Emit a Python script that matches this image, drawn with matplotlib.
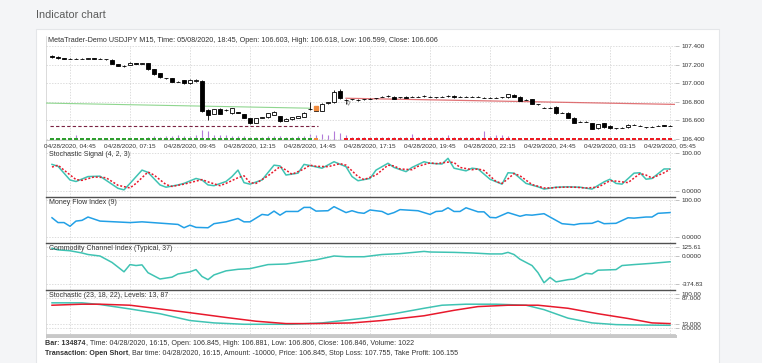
import matplotlib.pyplot as plt
from matplotlib.patches import Rectangle
from matplotlib.lines import Line2D

plt.rcParams['font.family'] = ['Liberation Sans', 'DejaVu Sans']

# ---- price bars (M15, 104 bars) ----
opens = [107.292, 107.285, 107.266, 107.264, 107.262, 107.264, 107.264, 107.266, 107.264, 107.262,
         107.250, 107.206, 107.188, 107.196, 107.216, 107.210, 107.214, 107.149, 107.106, 107.055,
         107.052, 107.018, 107.034, 106.999, 107.022, 107.024, 106.712, 106.669, 106.723, 106.712,
         106.676, 106.685, 106.669, 106.622, 106.576, 106.630, 106.633, 106.658, 106.647, 106.594,
         106.611, 106.629, 106.640, 106.720, 106.705, 106.705, 106.790, 106.794, 106.916, 106.822,
         106.827, 106.820, 106.827, 106.834, 106.837, 106.855, 106.862, 106.855, 106.848, 106.855,
         106.855, 106.855, 106.862, 106.855, 106.848, 106.855, 106.862, 106.862, 106.855, 106.855,
         106.855, 106.855, 106.844, 106.844, 106.844, 106.848, 106.848, 106.873, 106.855, 106.820,
         106.827, 106.776, 106.737, 106.737, 106.748, 106.683, 106.683, 106.629, 106.586, 106.586,
         106.568, 106.515, 106.568, 106.540, 106.515, 106.522, 106.525, 106.551, 106.540, 106.528,
         106.533, 106.544, 106.547, 106.540]
closes = [107.280, 107.268, 107.264, 107.262, 107.264, 107.263, 107.266, 107.264, 107.262, 107.257,
          107.210, 107.188, 107.186, 107.221, 107.210, 107.212, 107.149, 107.095, 107.063, 107.052,
          107.016, 107.016, 106.999, 107.034, 107.030, 106.701, 106.658, 106.719, 106.669, 106.710,
          106.730, 106.683, 106.629, 106.568, 106.622, 106.633, 106.676, 106.694, 106.597, 106.619,
          106.633, 106.647, 106.683, 106.723, 106.737, 106.776, 106.794, 106.909, 106.837, 106.819,
          106.826, 106.819, 106.828, 106.833, 106.838, 106.856, 106.861, 106.834, 106.847, 106.841,
          106.856, 106.854, 106.861, 106.856, 106.848, 106.856, 106.862, 106.848, 106.855, 106.856,
          106.854, 106.855, 106.844, 106.845, 106.844, 106.847, 106.880, 106.855, 106.812, 106.819,
          106.776, 106.775, 106.736, 106.737, 106.676, 106.683, 106.629, 106.576, 106.585, 106.586,
          106.508, 106.561, 106.525, 106.515, 106.515, 106.522, 106.551, 106.551, 106.540, 106.525,
          106.533, 106.544, 106.540, 106.540]
highs = [107.298, 107.290, 107.270, 107.268, 107.268, 107.268, 107.270, 107.270, 107.268, 107.264,
         107.255, 107.210, 107.192, 107.226, 107.220, 107.216, 107.220, 107.152, 107.110, 107.060,
         107.056, 107.022, 107.038, 107.040, 107.040, 107.030, 106.720, 106.724, 106.728, 106.718,
         106.735, 106.690, 106.674, 106.626, 106.626, 106.638, 106.680, 106.700, 106.652, 106.624,
         106.638, 106.652, 106.688, 106.800, 106.742, 106.782, 106.800, 106.925, 106.935, 106.830,
         106.832, 106.826, 106.834, 106.840, 106.844, 106.862, 106.868, 106.860, 106.854, 106.860,
         106.862, 106.860, 106.868, 106.862, 106.854, 106.862, 106.868, 106.868, 106.860, 106.860,
         106.860, 106.860, 106.848, 106.848, 106.848, 106.852, 106.884, 106.880, 106.860, 106.825,
         106.830, 106.780, 106.742, 106.742, 106.752, 106.688, 106.688, 106.634, 106.590, 106.590,
         106.572, 106.565, 106.572, 106.545, 106.520, 106.527, 106.556, 106.558, 106.546, 106.533,
         106.538, 106.550, 106.552, 106.545]
lows = [107.276, 107.264, 107.260, 107.258, 107.258, 107.259, 107.260, 107.260, 107.258, 107.252,
        107.205, 107.184, 107.176, 107.192, 107.205, 107.206, 107.145, 107.090, 107.058, 107.045,
        107.012, 107.010, 106.995, 106.995, 107.018, 106.690, 106.600, 106.664, 106.664, 106.704,
        106.672, 106.678, 106.625, 106.565, 106.572, 106.624, 106.630, 106.654, 106.585, 106.590,
        106.606, 106.625, 106.636, 106.712, 106.700, 106.700, 106.780, 106.790, 106.830, 106.775,
        106.820, 106.812, 106.820, 106.828, 106.830, 106.850, 106.856, 106.830, 106.842, 106.836,
        106.850, 106.848, 106.856, 106.850, 106.842, 106.850, 106.856, 106.844, 106.850, 106.850,
        106.850, 106.850, 106.840, 106.840, 106.840, 106.842, 106.845, 106.850, 106.808, 106.814,
        106.772, 106.768, 106.730, 106.732, 106.672, 106.678, 106.625, 106.572, 106.580, 106.580,
        106.504, 106.510, 106.520, 106.512, 106.510, 106.517, 106.520, 106.546, 106.535, 106.520,
        106.528, 106.540, 106.536, 106.535]
volumes = [300, 300, 300, 300, 1000, 300, 300, 300, 300, 300, 300, 300, 300, 300, 300, 300,
           660, 880, 730, 950, 880, 1000, 950, 880, 1000, 2200, 1900, 1100, 1000, 1000, 950, 950,
           880, 730, 660, 660, 800, 880, 880, 730, 730, 800, 880, 1250, 1100, 1400, 1100, 2000,
           1450, 1022,
           650, 700, 650, 700, 650, 700, 650, 700, 650,
           700, 1400, 700, 650, 700, 650, 700, 1100, 650, 700, 650, 700, 650, 2000, 900, 1000,
           1000, 800,
           450, 450, 450, 450, 450, 450, 450, 450, 450, 450, 450, 450, 450, 450, 450, 450, 450,
           450, 450, 450, 450, 450, 450, 450, 450, 450, 450]
position_runs = [("long", 44), ("entry", 1), ("flat", 4), ("short", 55)]

# moving average (trend coloured) and stop level
ma_up_bars = [-1, 43]
ma_up_vals = [106.786, 106.731]
ma_dn_bars = [49, 103.8]
ma_dn_vals = [106.838, 106.772]
level_price = 106.544
level_bars = [-0.4, 44.4]

tick_bars = [3, 13, 23, 33, 43, 53, 63, 73, 83, 93, 103]
tick_labels = ["04/28/2020, 04:45", "04/28/2020, 07:15", "04/28/2020, 09:45", "04/28/2020, 12:15",
               "04/28/2020, 14:45", "04/28/2020, 17:15", "04/28/2020, 19:45", "04/28/2020, 22:15",
               "04/29/2020, 24:45", "04/29/2020, 03:15", "04/29/2020, 05:45"]

# ---- Stochastic Signal (4, 2, 3) ----
sig_k_bars = [0, 1, 3, 4, 6, 8, 11, 12, 13, 15, 16, 18, 19, 21, 22, 24, 25, 26, 27, 29, 30, 31, 32, 33,
              35, 37, 38, 39, 41, 42, 43, 45, 47, 49, 50, 51, 53, 54, 56, 57, 59, 60, 62, 63, 65, 66,
              67, 69, 70, 71, 73, 75, 76, 77, 79, 81, 82, 84, 86, 88, 90, 92, 93, 94, 95, 97, 98, 99,
              100, 102, 103]
sig_k_vals = [70, 65, 29, 25, 38, 39, 7, 3, 20, 55, 49, 16, 10, 16, 20, 33, 29, 16, 14, 25, 38, 55, 22, 18,
              29, 68, 66, 42, 47, 70, 67, 60, 77, 64, 38, 27, 33, 55, 73, 62, 51, 62, 77, 73, 71, 86,
              60, 53, 60, 58, 31, 18, 48, 47, 20, 11, 5, 10, 11, 10, 5, 24, 31, 20, 18, 47, 48, 31,
              33, 58, 58]
sig_d_bars = [0, 1, 2, 4, 5, 7, 9, 11, 13, 14, 16, 17, 19, 20, 22, 23, 25, 26, 28, 29, 31, 32, 33, 34,
              36, 38, 39, 40, 42, 43, 44, 46, 48, 49, 51, 52, 54, 56, 57, 58, 60, 61, 63, 64, 66, 67,
              68, 70, 71, 72, 74, 75, 76, 77, 78, 80, 82, 83, 85, 87, 89, 91, 93, 94, 96, 98, 99, 100,
              102, 103]
sig_d_vals = [63, 68, 55, 30, 28, 37, 35, 15, 8, 20, 50, 42, 17, 12, 18, 22, 30, 24, 14, 20, 35, 40, 22, 20,
              40, 64, 55, 44, 58, 68, 65, 64, 72, 68, 38, 30, 42, 68, 66, 58, 56, 65, 74, 72, 76, 75,
              62, 56, 58, 54, 25, 20, 32, 46, 40, 17, 8, 8, 10, 10, 8, 10, 27, 26, 22, 46, 42, 34,
              48, 57]

# ---- Money Flow Index (9) ----
mfi_bars = [0, 1, 2, 3, 4, 5, 6, 8, 13, 15, 21, 22, 23, 24, 26, 27, 29, 31, 32, 33, 35, 36, 37, 38, 39,
            41, 42, 43, 44, 46, 47, 49, 50, 51, 52, 53, 55, 56, 57, 58, 61, 63, 64, 65, 66, 67, 68, 69,
            71, 72, 73, 74, 76, 78, 79, 80, 81, 82, 85, 87, 88, 90, 91, 92, 94, 96, 97, 99, 100, 101, 103]
mfi_vals = [52, 39, 39, 29, 43, 45, 54, 43, 39, 41, 34, 25, 32, 26, 25, 36, 41, 50, 41, 41, 61, 59, 70, 59, 69,
            69, 80, 80, 70, 71, 82, 66, 71, 66, 64, 73, 69, 61, 66, 74, 71, 61, 69, 70, 79, 69, 69, 79,
            68, 68, 53, 52, 66, 56, 60, 59, 61, 63, 36, 33, 36, 37, 43, 36, 37, 52, 51, 54, 54, 64, 66]

# ---- Commodity Channel Index (Typical, 37) ----
cci_bars = [0, 1, 3, 5, 6, 8, 10, 11, 12, 13, 14, 15, 16, 18, 20, 21, 23, 24, 25, 26, 27, 29, 31, 33, 36,
            39, 42, 44, 47, 49, 52, 55, 58, 62, 63, 67, 70, 73, 75, 76, 77, 78, 80, 81, 82, 83, 84, 86,
            87, 89, 90, 91, 94, 95, 97, 100, 103]
cci_vals = [104, 83, 71, 41, 20, 0, -87, -150, -214, -116, -129, -120, -226, -311, -286, -243, -214, -184,
            -277, -320, -256, -201, -180, -171, -116, -108, -74, -52, 0, -10, -10, 20, 32, 62, 54, 49,
            41, 28, 28, 49, 20, -44, -129, -226, -362, -290, -350, -320, -311, -235, -243, -192, -184,
            -129, -116, -99, -78]

# ---- Stochastic (23, 18, 22) ----
sto_k_bars = [0, 5, 8, 13, 18, 23, 27, 32, 40, 45, 52, 57, 62, 65, 69, 74, 79, 82, 86, 90, 94, 97, 103]
sto_k_vals = [74, 74, 69, 56, 42, 22, 15, 11, 11, 15, 29, 42, 58, 67, 70, 70, 67, 54, 29, 15, 10, 9, 8]
sto_d_bars = [0, 5, 8, 13, 18, 23, 29, 34, 39, 44, 50, 55, 62, 67, 71, 76, 81, 86, 91, 96, 100, 103]
sto_d_vals = [67, 70, 70, 67, 56, 45, 31, 20, 13, 13, 15, 22, 36, 52, 63, 67, 67, 58, 42, 28, 15, 13]

# ---- layout helpers (pixel boxes) ----
W, H = 762, 363
fig = plt.figure(figsize=(W / 100, H / 100), dpi=100)
fig.patch.set_facecolor('#f4f5f7')


def box(x0, y0, x1, y1):
    return [x0 / W, 1 - y1 / H, (x1 - x0) / W, (y1 - y0) / H]


fig.patches.append(Rectangle((36 / W, -0.05), (719 - 36) / W, 1.05 - 29 / H, transform=fig.transFigure,
                             facecolor='white', edgecolor='#e4e6e9', lw=0.8, zorder=-10))
fig.text(36 / W, 1 - 15 / H, 'Indicator chart', fontsize=7.8, color='#5a5a5a', va='center')
fig.lines.append(Line2D([46 / W, 46 / W], [1 - 36 / H, 1 - 338 / H], transform=fig.transFigure,
                        color='#cccccc', lw=0.5, zorder=-5))
fig.text(48 / W, 1 - 40 / H, 'MetaTrader-Demo USDJPY M15, Time: 05/08/2020, 18:45, Open: 106.603, '
         'High: 106.618, Low: 106.599, Close: 106.606', fontsize=5.2, color='#333', va='center')

XMIN, XMAX = -1, 103.83
GRID = dict(color='#cfcfcf', lw=0.5, ls=(0, (2, 2)))
TEAL = '#3fc3b3'
RED = '#e8192c'
TXT = 5.1


def style(ax, ticks, labels, bottom_color='#c4c4c4', bottom_lw=0.6):
    ax.set_xlim(XMIN, XMAX)
    ax.set_xticks(tick_bars)
    ax.set_yticks(ticks)
    ax.set_yticklabels(labels)
    ax.grid(True, **GRID)
    ax.set_axisbelow(True)
    ax.yaxis.tick_right()
    ax.tick_params(axis='y', length=3, width=0.5, color='#aaaaaa', pad=1.5, labelsize=4.6,
                   labelcolor='#333')
    ax.tick_params(axis='x', length=0, labelbottom=False)
    ax.spines['top'].set_visible(False)
    ax.spines['right'].set_visible(False)
    ax.spines['left'].set_visible(False)
    ax.spines['bottom'].set_color(bottom_color)
    ax.spines['bottom'].set_linewidth(bottom_lw)
    ax.set_facecolor('none')


def panel_title(ax, text):
    ax.text(0.004, 0.98, text, transform=ax.transAxes, fontsize=5.0, color='#333', va='top', ha='left')


# ---- main price panel ----
ax_vol = fig.add_axes(box(46, 46, 675, 140), zorder=0)
ax_vol.set_xlim(XMIN, XMAX)
ax_vol.set_ylim(0, 94 * 220)
ax_vol.axis('off')
ax_vol.vlines(range(len(volumes)), 0, volumes, color='#b37bd9', lw=0.8)

ax = fig.add_axes(box(46, 46, 675, 140), zorder=1)
style(ax, [106.4, 106.6, 106.8, 107.0, 107.2, 107.4],
      ['106.400', '106.600', '106.800', '107.000', '107.200', '107.400'])
ax.set_ylim(106.389, 107.400)
ax.set_xticklabels(tick_labels)
ax.tick_params(axis='x', labelbottom=True, labelsize=4.6, labelcolor='#333', pad=2.5)

bars = list(range(len(opens)))
ax.plot(ma_up_bars, ma_up_vals, color='#8fd68f', lw=0.8, zorder=2)
ax.plot(ma_dn_bars, ma_dn_vals, color='#db5a5e', lw=0.9, alpha=0.85, zorder=2)
ax.hlines(level_price, level_bars[0], level_bars[1], colors='#7a2242', linestyles=(0, (3, 2)), lw=0.8,
          zorder=2)
ax.vlines(bars, lows, highs, color='black', lw=0.6, zorder=3)
body_lo = [min(o, c) for o, c in zip(opens, closes)]
body_h = [abs(c - o) for o, c in zip(opens, closes)]
body_col = ['black' if c < o else 'white' for o, c in zip(opens, closes)]
ax.bar(bars, body_h, bottom=body_lo, width=0.62, color=body_col, edgecolor='black', lw=0.6, zorder=4)

positions = []
for name, n in position_runs:
    positions += [name] * n
pos_colors = {'long': '#2f9e2f', 'entry': '#f08a3c', 'flat': 'none', 'short': '#ec1c24'}
ax.bar(bars, [0.026] * len(bars), bottom=106.389, width=0.72,
       color=[pos_colors[p] for p in positions], lw=0, zorder=5, clip_on=False)
ax.plot([44], [106.732], marker='s', ms=2.2, color='#f08a3c', lw=0, zorder=6)
ax.plot([49.4], [106.79], marker='v', ms=2.6, mfc='none', mec='#9a9a9a', mew=0.6, lw=0, zorder=6)

# ---- Stochastic Signal ----
ax1 = fig.add_axes(box(46, 150, 675, 197), zorder=1)
style(ax1, [0, 100], ['0.0000', '100.00'], '#505050', 1.0)
ax1.set_ylim(-15.8, 107.9)
ax1.plot(sig_k_bars, sig_k_vals, color=TEAL, lw=1.1)
ax1.plot(sig_d_bars, sig_d_vals, color=RED, lw=1.1, ls=(0, (1.3, 1.2)))
panel_title(ax1, 'Stochastic Signal (4, 2, 3)')

# ---- Money Flow Index ----
ax2 = fig.add_axes(box(46, 198, 675, 243), zorder=1)
style(ax2, [0, 100], ['0.0000', '100.00'], '#505050', 1.0)
ax2.set_ylim(-16.2, 105.4)
ax2.plot(mfi_bars, mfi_vals, color='#22a0e6', lw=1.1)
panel_title(ax2, 'Money Flow Index (9)')

# ---- CCI ----
ax3 = fig.add_axes(box(46, 244, 675, 290), zorder=1)
style(ax3, [-374.83, 0, 125.61], ['-374.83', '0.0000', '125.61'], '#505050', 1.0)
ax3.set_ylim(-459.9, 162.3)
ax3.plot(cci_bars, cci_vals, color=TEAL, lw=1.1)
panel_title(ax3, 'Commodity Channel Index (Typical, 37)')

# ---- Stochastic ----
ax4 = fig.add_axes(box(46, 291, 675, 334), zorder=1)
style(ax4, [0, 13, 87, 100], ['0.0000', '13.000', '87.000', '100.00'])
ax4.set_ylim(-17.6, 108.8)
ax4.plot(sto_k_bars, sto_k_vals, color=TEAL, lw=1.1)
ax4.plot(sto_d_bars, sto_d_vals, color=RED, lw=1.1)
panel_title(ax4, 'Stochastic (23, 18, 22), Levels: 13, 87')

fig.patches.append(Rectangle((46 / W, 1 - 338 / H), (677 - 46) / W, 3.5 / H, transform=fig.transFigure,
                             facecolor='#c8c8c8', edgecolor='none', zorder=2))

# ---- status lines ----
t1 = fig.text(45 / W, 1 - 347 / H, 'Bar: 134874', fontsize=TXT, weight='bold', color='#333', va='bottom')
ax4.annotate(', Time: 04/28/2020, 16:15, Open: 106.845, High: 106.881, Low: 106.806, Close: 106.846, '
             'Volume: 1022', xy=(1, 0), xycoords=t1, va='bottom', fontsize=TXT, color='#333',
             annotation_clip=False)
t2 = fig.text(45 / W, 1 - 357 / H, 'Transaction: Open Short', fontsize=TXT, weight='bold', color='#333',
              va='bottom')
ax4.annotate(', Bar time: 04/28/2020, 16:15, Amount: -10000, Price: 106.845, Stop Loss: 107.755, '
             'Take Profit: 106.155', xy=(1, 0), xycoords=t2, va='bottom', fontsize=TXT, color='#333',
             annotation_clip=False)

fig.savefig('out.png', dpi=100, facecolor=fig.get_facecolor())
